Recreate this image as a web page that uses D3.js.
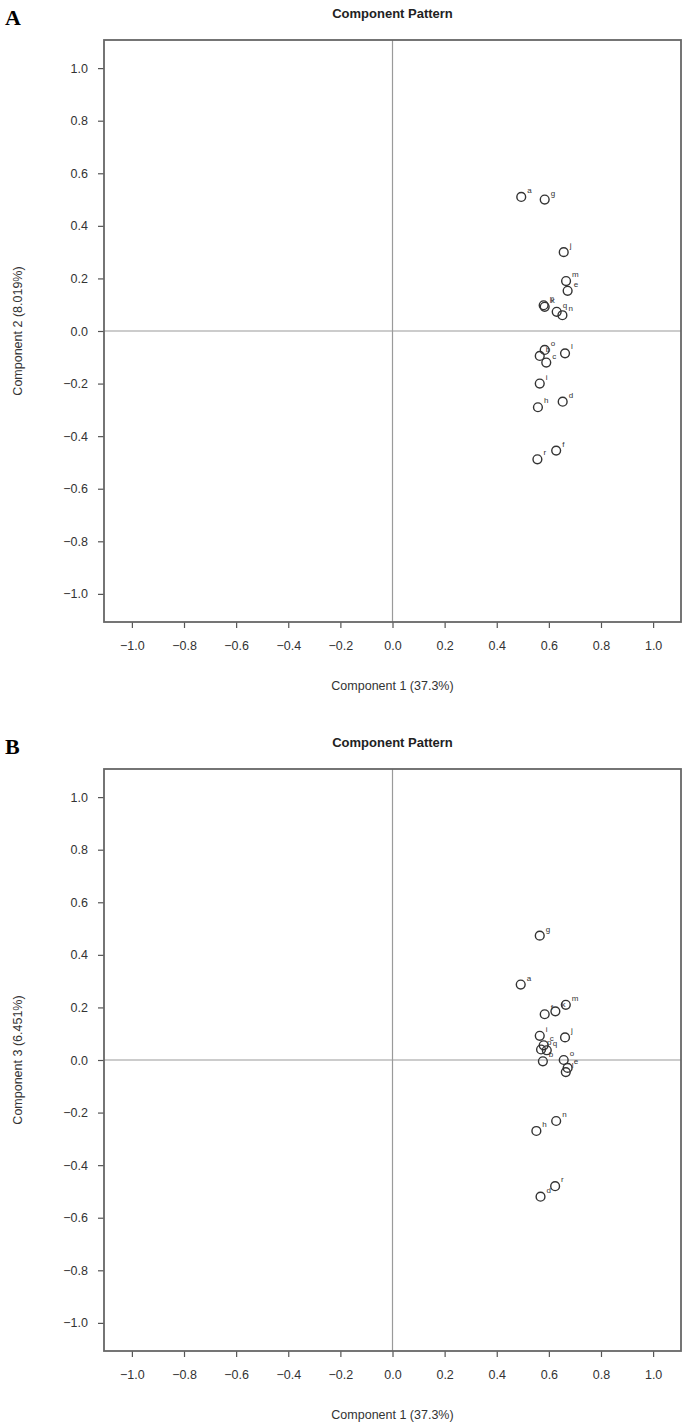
<!DOCTYPE html>
<html>
<head>
    <meta charset="utf-8">
    <title>Component Pattern</title>
    <script src="https://d3js.org/d3.v7.min.js"></script>
    <style>
        body { margin: 0; background: #fff; }
        svg { display: block; }
    </style>
</head>
<body>
    <div id="chart"></div>
    <script>
        // axis ticks, shared by both panels
        var tickValues = [-1.0, -0.8, -0.6, -0.4, -0.2, 0.0, 0.2, 0.4, 0.6, 0.8, 1.0];

        // panel A: component 1 vs component 2
        var labelsA = ["a", "g", "j", "m", "e", "k", "q", "p", "n", "b", "o", "l", "c", "i", "h", "d", "r", "f"];
        var xA = [0.494, 0.584, 0.657, 0.666, 0.672, 0.584, 0.630, 0.580, 0.652, 0.565, 0.584, 0.662, 0.590, 0.565, 0.558, 0.653, 0.556, 0.628];
        var yA = [0.510, 0.500, 0.300, 0.190, 0.153, 0.092, 0.073, 0.098, 0.060, -0.095, -0.072, -0.085, -0.120, -0.200, -0.290, -0.269, -0.488, -0.455];

        // panel B: component 1 vs component 3
        var labelsB = ["g", "a", "f", "k", "m", "i", "c", "j", "p", "q", "b", "o", "l", "e", "n", "h", "d", "r"];
        var xB = [0.565, 0.492, 0.584, 0.625, 0.665, 0.565, 0.580, 0.662, 0.570, 0.592, 0.577, 0.657, 0.665, 0.672, 0.628, 0.552, 0.568, 0.624];
        var yB = [0.473, 0.287, 0.174, 0.185, 0.210, 0.092, 0.056, 0.086, 0.040, 0.037, -0.005, 0.000, -0.046, -0.030, -0.232, -0.270, -0.520, -0.480];

        var W = 685, H = 1422;
        var svg = d3.select("#chart").append("svg")
            .attr("width", W)
            .attr("height", H);

        var font = "'Liberation Sans', Arial, sans-serif";
        var lim = 1.107;

        function drawPanel(top, letter, yTitle, labels, xs, ys) {
            var left = 104, right = 681,
                plotTop = top + 40, plotBottom = top + 622;

            var x = d3.scaleLinear().domain([-lim, lim]).range([left, right]);
            var y = d3.scaleLinear().domain([-lim, lim]).range([plotBottom, plotTop]);

            var g = svg.append("g");

            // panel letter
            g.append("text")
                .attr("x", 5).attr("y", top + 25)
                .style("font-family", "'Liberation Serif', 'Times New Roman', serif")
                .style("font-weight", "bold")
                .style("font-size", "22px")
                .text(letter);

            // title
            g.append("text")
                .attr("x", (left + right) / 2).attr("y", top + 18)
                .attr("text-anchor", "middle")
                .style("font-family", font)
                .style("font-weight", "bold")
                .style("font-size", "13px")
                .attr("fill", "#222")
                .text("Component Pattern");

            // reference lines at zero
            g.append("line")
                .attr("x1", x(0)).attr("x2", x(0))
                .attr("y1", plotTop).attr("y2", plotBottom)
                .attr("stroke", "#9a9a9a").attr("stroke-width", 1.2);
            g.append("line")
                .attr("x1", left).attr("x2", right)
                .attr("y1", y(0)).attr("y2", y(0))
                .attr("stroke", "#9a9a9a").attr("stroke-width", 1.2);

            // axes
            var xAxis = g.append("g")
                .attr("transform", `translate(0,${plotBottom})`)
                .call(d3.axisBottom(x).tickValues(tickValues).tickFormat(d3.format(".1f")).tickSize(6).tickPadding(13));
            var yAxis = g.append("g")
                .attr("transform", `translate(${left},0)`)
                .call(d3.axisLeft(y).tickValues(tickValues).tickFormat(d3.format(".1f")).tickSize(6).tickPadding(10));

            [xAxis, yAxis].forEach(function (a) {
                a.select(".domain").remove();
                a.selectAll(".tick line").attr("stroke", "#555").attr("stroke-width", 1.2);
                a.selectAll(".tick text")
                    .style("font-family", font)
                    .style("font-size", "12.5px")
                    .attr("fill", "#333");
            });

            // frame
            g.append("rect")
                .attr("x", left).attr("y", plotTop)
                .attr("width", right - left).attr("height", plotBottom - plotTop)
                .attr("fill", "none")
                .attr("stroke", "#666").attr("stroke-width", 1.8);

            // axis titles
            g.append("text")
                .attr("x", (left + right) / 2).attr("y", top + 690)
                .attr("text-anchor", "middle")
                .style("font-family", font).style("font-size", "12.5px")
                .attr("fill", "#333")
                .text("Component 1 (37.3%)");
            g.append("text")
                .attr("transform", `translate(22,${y(0)}) rotate(-90)`)
                .attr("text-anchor", "middle")
                .style("font-family", font).style("font-size", "12.5px")
                .attr("fill", "#333")
                .text(yTitle);

            // points
            var pts = g.selectAll(".pt")
                .data(labels)
                .enter().append("g")
                .attr("class", "pt")
                .attr("transform", (d, i) => `translate(${x(xs[i])},${y(ys[i])})`);
            pts.append("circle")
                .attr("r", 4.4)
                .attr("fill", "none")
                .attr("stroke", "#333")
                .attr("stroke-width", 1.4);
            pts.append("text")
                .attr("x", 6).attr("y", -4)
                .style("font-family", font).style("font-size", "8px")
                .attr("fill", "#333")
                .text(d => d);
        }

        drawPanel(0, "A", "Component 2 (8.019%)", labelsA, xA, yA);
        drawPanel(729, "B", "Component 3 (6.451%)", labelsB, xB, yB);
    </script>
</body>
</html>
